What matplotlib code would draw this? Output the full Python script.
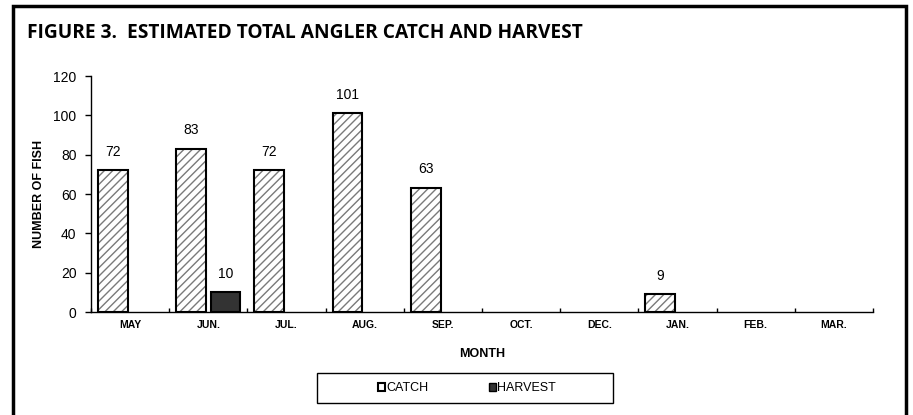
import matplotlib.pyplot as plt
import matplotlib.patches as mpatches
import numpy as np

months = ['MAY', 'JUN.', 'JUL.', 'AUG.', 'SEP.', 'OCT.', 'DEC.', 'JAN.', 'FEB.', 'MAR.']
catch = [72, 83, 72, 101, 63, 0, 0, 9, 0, 0]
harvest = [0, 10, 0, 0, 0, 0, 0, 0, 0, 0]

W, H = 913, 415
fig = plt.figure(figsize=(W / 100, H / 100), dpi=100)
ax = fig.add_axes([91 / W, (H - 312) / H, (873 - 91) / W, (312 - 76) / H])

x = np.arange(len(months))
catch_a = np.array(catch)
harv_a = np.array(harvest)
bw = 0.38
off = 0.22

# only months with a value get a bar (Excel draws nothing for zero)
ci = catch_a > 0
hi = harv_a > 0

plt.rcParams['hatch.linewidth'] = 1.0
# catch bars: grey hatch underneath, black outline on top
ax.bar(x[ci] - off, catch_a[ci], bw, color='white', edgecolor='#7a7a7a', hatch='////', linewidth=0, zorder=2)
ax.bar(x[ci] - off, catch_a[ci], bw, color='none', edgecolor='black', linewidth=1.5, zorder=3)
ax.bar(x[hi] + off, harv_a[hi], bw, color='#333333', edgecolor='black', linewidth=1.5, zorder=3)

for xi, v in zip(x[ci], catch_a[ci]):
    ax.text(xi - off, v + 6, str(v), ha='center', va='bottom', fontsize=10, family='Liberation Sans')
for xi, v in zip(x[hi], harv_a[hi]):
    ax.text(xi + off, v + 6, str(v), ha='center', va='bottom', fontsize=10, family='Liberation Sans')

ax.set_xlim(-0.5, len(months) - 0.5)
ax.set_ylim(0, 120)
ax.set_yticks(range(0, 121, 20))
ax.set_xticks(x)
ax.set_xticklabels(months, fontsize=7.5, fontweight='bold', family='Liberation Sans')
ax.set_xticks(np.arange(-0.5, len(months)), minor=True)
ax.tick_params(axis='x', which='major', length=0, pad=5.5)
ax.tick_params(axis='x', which='minor', direction='in', length=3, width=1)
ax.tick_params(axis='y', direction='out', length=4, width=1, labelsize=10, pad=6.5)
for lab in ax.get_yticklabels():
    lab.set_family('Liberation Sans')
for s in ['top', 'right']:
    ax.spines[s].set_visible(False)
for s in ['left', 'bottom']:
    ax.spines[s].set_linewidth(1.0)

ax.set_xlabel('MONTH', fontsize=9, fontweight='bold', family='Liberation Sans', labelpad=13)
ax.set_ylabel('NUMBER OF FISH', fontsize=9, fontweight='bold', family='Liberation Sans', labelpad=6)

fig.text(27 / W, 1 - 33 / H, 'FIGURE 3.  ESTIMATED TOTAL ANGLER CATCH AND HARVEST',
         fontsize=13.75, fontweight='bold', family='Open Sans', va='center', ha='left')

# outer border
fig.patches.append(mpatches.Rectangle((13 / W, -0.05), (906 - 13) / W, 1.05 - 6 / H,
                                      transform=fig.transFigure, fill=False,
                                      edgecolor='black', linewidth=2.5))
# legend frame
fig.patches.append(mpatches.Rectangle((317 / W, (H - 403) / H), (613 - 317) / W, 30 / H,
                                      transform=fig.transFigure, fill=False,
                                      edgecolor='black', linewidth=1.0))
handles = [mpatches.Patch(facecolor='white', edgecolor='black', linewidth=1.5, label='CATCH'),
           mpatches.Patch(facecolor='#333333', edgecolor='black', linewidth=1.0, label='HARVEST')]
fig.legend(handles=handles, loc='center', bbox_to_anchor=(467 / W, 1 - 388 / H), ncol=2,
           frameon=False, handlelength=0.6, handleheight=0.6, handletextpad=0.1,
           columnspacing=4.8, prop={'family': 'Liberation Sans', 'size': 9})

fig.savefig('out.png', dpi=100)
